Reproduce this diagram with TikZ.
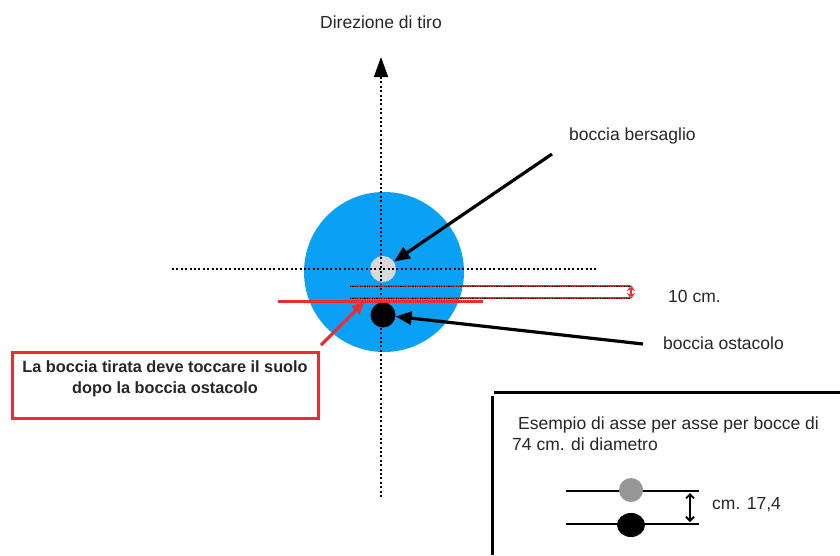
\documentclass[tikz,border=0pt]{standalone}
\usepackage{fontspec}
\setmainfont{Liberation Sans}
\usetikzlibrary{arrows.meta,shapes.geometric}
\definecolor{bluefield}{RGB}{10,160,245}
\definecolor{redline}{RGB}{235,45,50}
\definecolor{ballgray}{RGB}{216,216,216}
\definecolor{smallgray}{RGB}{150,150,150}
\begin{document}
\begin{tikzpicture}[x=1pt,y=-1pt,
  lbl/.style={font=\fontsize{17.5}{19}\selectfont, inner sep=0pt, text=black!85},
  boldlbl/.style={font=\bfseries\fontsize{16.3}{21}\selectfont, inner sep=0pt, align=center, text=black!85},
  axis/.style={line width=1.6pt, dash pattern=on 2pt off 2.4pt},
  pointer/.style={line width=3.2pt, -{Triangle[length=16pt,width=13pt]}},
  redpointer/.style={redline, line width=3.2pt, -{Triangle[length=12pt,width=11pt]}},
  dimline/.style={redline, line width=2.4pt},
  dimdots/.style={black, line width=1pt, dash pattern=on 1.2pt off 1.2pt},
  ball/.style={circle, inner sep=0pt}
]
\useasboundingbox (0,0) rectangle (840,555);

% blue zone
\node[ball, fill=bluefield, minimum size=160pt] (zone) at (384,272) {};

% balls
\node[ball, fill=ballgray, minimum size=26pt] (target) at (383,269) {};
\node[ball, fill=black, minimum size=25pt] (obstacle) at (383,315) {};

% axes
\coordinate (axtop) at (381,57);
\coordinate (axbot) at (381,497);
\draw[axis, -{Triangle[length=20pt,width=14pt]}] (axbot) -- (axtop);
\coordinate (hl) at (172,269);
\coordinate (hr) at (597,269);
\draw[axis] (hl) -- (hr);

\node[lbl] (dir) at (381,22) {Direzione di tiro};

% red line and dimension lines
\coordinate (rl1) at (278,301);
\coordinate (rl2) at (483,301);
\draw[redline, line width=3pt] (rl1) -- (rl2);

\coordinate (d1a) at (350,286);
\coordinate (d1b) at (630,286);
\coordinate (d2a) at (350,298);
\coordinate (d2b) at (630,298);
\draw[dimline] (d1a) -- (d1b);
\draw[dimdots] (d1a) -- (d1b);
\draw[dimline] (d2a) -- (d2b);
\draw[dimdots] (d2a) -- (d2b);
\coordinate (dm1) at (631,285);
\coordinate (dm2) at (631,299);
\draw[redline, line width=1.6pt, {Stealth[open,length=6pt,width=8pt]}-{Stealth[open,length=6pt,width=8pt]}] (dm1) -- (dm2);
\node[lbl, anchor=west] (tencm) at (668,296) {10 cm.};

% labels with pointers
\node[lbl, anchor=west] (bers) at (569,136) {boccia bersaglio};
\coordinate (bstart) at (552,154);
\draw[pointer] (bstart) -- (target);

\node[lbl, anchor=west] (ost) at (663,343) {boccia ostacolo};
\coordinate (ostart) at (643,344);
\draw[pointer] (ostart) -- (obstacle);

% red box
\node[draw=redline, line width=3pt, minimum width=306pt, minimum height=66pt, inner sep=0pt] (redbox) at (165,385.5) {};
\node[boldlbl] (redtext) at (165,379) {La boccia tirata deve toccare il suolo\\dopo la boccia ostacolo};
\coordinate (rstart) at (321,345);
\coordinate (rtip) at (364,302);
\draw[redpointer] (rstart) -- (rtip);

% example box
\coordinate (bx1) at (492,555);
\coordinate (bx2) at (492,396);
\coordinate (bx3) at (494,392);
\coordinate (bx4) at (840,392);
\draw[line width=3pt] (bx1) -- (bx2);
\draw[line width=3pt] (bx3) -- (bx4);

\node[lbl, anchor=west] (ex1) at (518,425) {Esempio di asse per asse per bocce di};
\node[lbl, anchor=west] (ex2) at (512,444) {74 cm. di diametro};

\coordinate (sl1a) at (566,491);
\coordinate (sl1b) at (699,491);
\coordinate (sl2a) at (566,524);
\coordinate (sl2b) at (699,524);
\draw[line width=2.4pt] (sl1a) -- (sl1b);
\draw[line width=2.4pt] (sl2a) -- (sl2b);
\node[ball, fill=smallgray, minimum size=24pt] (sgray) at (631,490) {};
\node[ellipse, fill=black, minimum width=28pt, minimum height=24pt, inner sep=0pt] (sblack) at (631,525) {};
\coordinate (sa1) at (690,493);
\coordinate (sa2) at (690,522);
\draw[line width=1.8pt, {Straight Barb[length=4pt,width=8pt]}-{Straight Barb[length=4pt,width=8pt]}] (sa1) -- (sa2);
\node[lbl, anchor=west] (cm) at (712,505) {cm. 17,4};
\end{tikzpicture}
\end{document}
